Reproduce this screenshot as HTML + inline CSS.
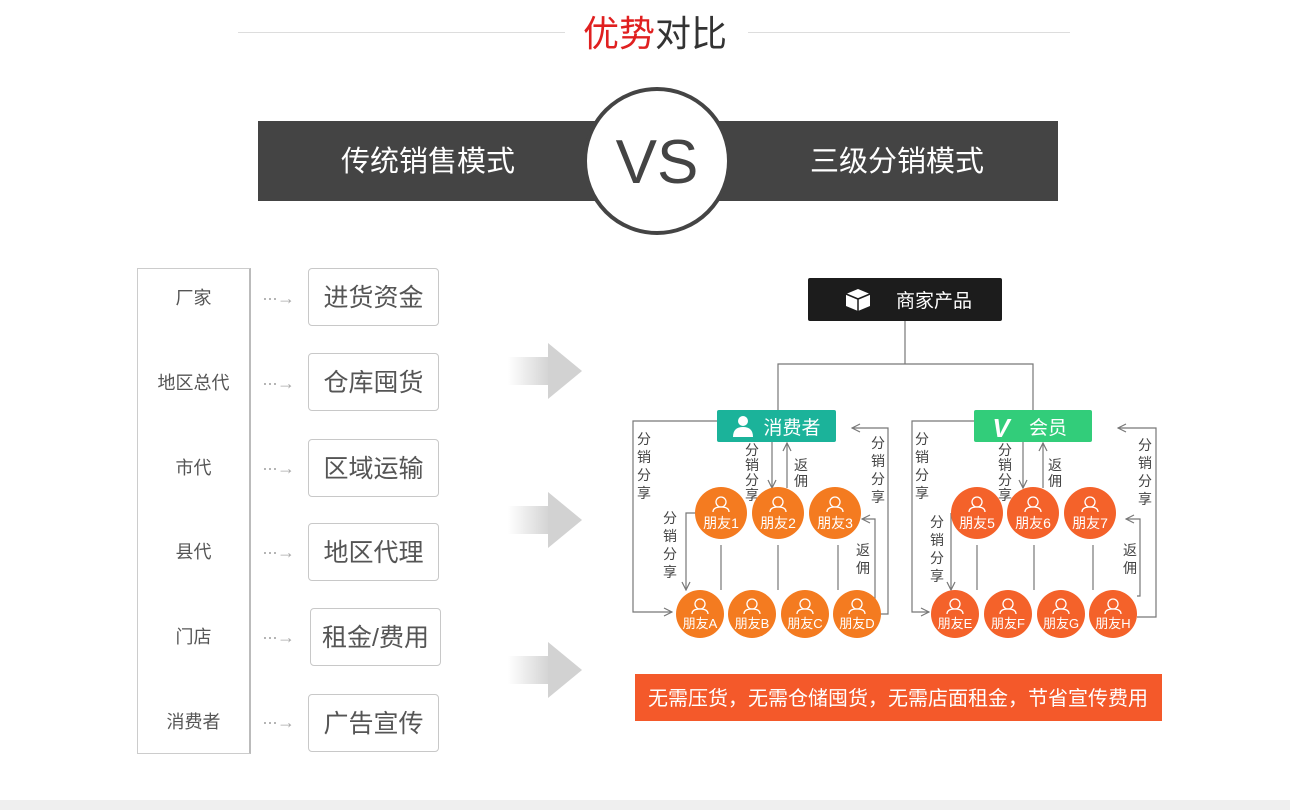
<!DOCTYPE html>
<html><head><meta charset="utf-8"><style>
body{margin:0;width:1290px;height:810px;background:#fff;position:relative;overflow:hidden;font-family:"Liberation Sans","Noto Sans CJK SC",sans-serif}
.a{position:absolute}
.lab{position:absolute;left:137px;width:113px;text-align:center;font-size:18px;color:#555;line-height:20px}
.box{position:absolute;left:308px;width:129px;height:56px;border:1px solid #c8c8c8;border-radius:4px;text-align:center;font-size:25px;color:#555;line-height:58px}
.ar{position:absolute;left:262px;font-size:18px;color:#aaa;line-height:20px;letter-spacing:-1px}
</style></head><body>
<div class="a" style="left:238px;top:32px;width:327px;height:1px;background:#ddd"></div>
<div class="a" style="left:748px;top:32px;width:322px;height:1px;background:#ddd"></div>
<div class="a" style="left:560px;top:12px;width:190px;text-align:center;font-size:36px;line-height:44px;color:#333"><span style="color:#e02020">优势</span>对比</div>
<div class="a" style="left:258px;top:121px;width:800px;height:80px;background:#444"></div>
<div class="a" style="left:258px;top:122px;width:340px;line-height:80px;text-align:center;color:#fff;font-size:29px">传统销售模式</div>
<div class="a" style="left:727px;top:122px;width:340px;line-height:80px;text-align:center;color:#fff;font-size:29px">三级分销模式</div>
<div class="a" style="left:583px;top:87px;width:140px;height:140px;border:4px solid #444;border-radius:50%;background:#fff;text-align:center;line-height:144px;font-size:62px;color:#444">VS</div>

<div class="a" style="left:137px;top:268px;width:111px;height:484px;border:1px solid #ccc;border-right:2px solid #bbb"></div>
<div class="lab" style="top:288px">厂家</div>
<div class="lab" style="top:373px">地区总代</div>
<div class="lab" style="top:458px">市代</div>
<div class="lab" style="top:542px">县代</div>
<div class="lab" style="top:627px">门店</div>
<div class="lab" style="top:712px">消费者</div>
<div class="ar" style="top:288px">···→</div>
<div class="ar" style="top:373px">···→</div>
<div class="ar" style="top:458px">···→</div>
<div class="ar" style="top:542px">···→</div>
<div class="ar" style="top:627px">···→</div>
<div class="ar" style="top:712px">···→</div>
<div class="box" style="top:268px">进货资金</div>
<div class="box" style="top:353px">仓库囤货</div>
<div class="box" style="top:439px">区域运输</div>
<div class="box" style="top:523px">地区代理</div>
<div class="box" style="top:608px;left:310px">租金/费用</div>
<div class="box" style="top:694px">广告宣传</div>

<svg class="a" style="left:0;top:0" width="1290" height="810">
<defs>
<linearGradient id="g" x1="0" x2="1"><stop offset="0" stop-color="#fff"/><stop offset="1" stop-color="#d0d0d0"/></linearGradient>
<g id="bg"><rect x="508" y="-14" width="44" height="28" fill="url(#g)"/><polygon points="548,-28 582,0 548,28" fill="#d2d2d2"/></g>
<g id="p"><circle cx="0" cy="-11" r="5" fill="none" stroke="#fff" stroke-width="1.3"/><path d="M-8,-1 Q-8,-6 0,-6 Q8,-6 8,-1" fill="none" stroke="#fff" stroke-width="1.3"/></g>
<marker id="m" markerWidth="10" markerHeight="10" refX="9" refY="5" orient="auto" markerUnits="userSpaceOnUse"><path d="M1,1 L9,5 L1,9" fill="none" stroke="#777" stroke-width="1.2"/></marker>
</defs>
<use href="#bg" y="371"/><use href="#bg" y="520"/><use href="#bg" y="670"/>
<g stroke="#777" stroke-width="1.2" fill="none">
<path d="M905,321 V364 M778,410 V364 H1033 V410"/>
<path d="M717,421 H633 V612 H672" marker-end="url(#m)"/>
<path d="M880,614 H888 V428 H852" marker-end="url(#m)"/>
<path d="M696,513 H686 V590" marker-end="url(#m)"/>
<path d="M872,602 H875 V519 H862" marker-end="url(#m)"/>
<path d="M772,442 V488" marker-end="url(#m)"/>
<path d="M787,488 V443" marker-end="url(#m)"/>
<path d="M721,545 V590 M778,545 V590 M838,545 V590"/>
<path d="M974,421 H912 V612 H929" marker-end="url(#m)"/>
<path d="M1137,617 H1156 V428 H1118" marker-end="url(#m)"/>
<path d="M951,513 V590" marker-end="url(#m)"/>
<path d="M1137,596 H1140 V519 H1126" marker-end="url(#m)"/>
<path d="M1023,442 V488" marker-end="url(#m)"/>
<path d="M1043,488 V443" marker-end="url(#m)"/>
<path d="M977,545 V590 M1034,545 V590 M1093,545 V590"/>
</g>
<rect x="808" y="278" width="194" height="43" rx="2" fill="#1c1c1c"/>
<path d="M846,294 L858,289 L870,294 L870,306 L858,311 L846,306 Z" fill="#fff"/><path d="M846,294 L858,299 L870,294 M858,299 V311" stroke="#1c1c1c" stroke-width="1.5" fill="none"/>
<text x="934" y="307" fill="#fff" font-size="19" text-anchor="middle">商家产品</text>
<rect x="717" y="410" width="119" height="32" rx="2" fill="#1bb39a"/>
<circle cx="743" cy="421" r="5" fill="#fff"/><path d="M733,437 Q733,427 743,427 Q753,427 753,437 Z" fill="#fff"/>
<text x="792" y="434" fill="#fff" font-size="19" text-anchor="middle">消费者</text>
<rect x="974" y="410" width="118" height="32" rx="2" fill="#32cd7a"/>
<text x="1001" y="437" fill="#fff" font-size="26" font-weight="bold" font-style="italic" text-anchor="middle">V</text>
<text x="1048" y="434" fill="#fff" font-size="19" text-anchor="middle">会员</text>
<g font-size="14" fill="#444" text-anchor="middle">
<text x="644" y="444">分</text><text x="644" y="462">销</text><text x="644" y="480">分</text><text x="644" y="498">享</text>
<text x="670" y="523">分</text><text x="670" y="541">销</text><text x="670" y="559">分</text><text x="670" y="577">享</text>
<text x="752" y="455">分</text><text x="752" y="470">销</text><text x="752" y="485">分</text><text x="752" y="500">享</text>
<text x="801" y="470">返</text><text x="801" y="486">佣</text>
<text x="878" y="448">分</text><text x="878" y="466">销</text><text x="878" y="484">分</text><text x="878" y="502">享</text>
<text x="863" y="555">返</text><text x="863" y="573">佣</text>
<text x="922" y="444">分</text><text x="922" y="462">销</text><text x="922" y="480">分</text><text x="922" y="498">享</text>
<text x="937" y="527">分</text><text x="937" y="545">销</text><text x="937" y="563">分</text><text x="937" y="581">享</text>
<text x="1005" y="455">分</text><text x="1005" y="470">销</text><text x="1005" y="485">分</text><text x="1005" y="500">享</text>
<text x="1055" y="470">返</text><text x="1055" y="486">佣</text>
<text x="1145" y="450">分</text><text x="1145" y="468">销</text><text x="1145" y="486">分</text><text x="1145" y="504">享</text>
<text x="1130" y="555">返</text><text x="1130" y="573">佣</text>
</g>
<g fill="#f47b20">
<circle cx="721" cy="513" r="26"/><circle cx="778" cy="513" r="26"/><circle cx="835" cy="513" r="26"/>
<circle cx="700" cy="614" r="24"/><circle cx="752" cy="614" r="24"/><circle cx="805" cy="614" r="24"/><circle cx="857" cy="614" r="24"/>
</g>
<g fill="#f4622a">
<circle cx="977" cy="513" r="26"/><circle cx="1033" cy="513" r="26"/><circle cx="1090" cy="513" r="26"/>
<circle cx="955" cy="614" r="24"/><circle cx="1008" cy="614" r="24"/><circle cx="1061" cy="614" r="24"/><circle cx="1113" cy="614" r="24"/>
</g>
<use href="#p" x="721" y="513"/><use href="#p" x="778" y="513"/><use href="#p" x="835" y="513"/>
<use href="#p" x="977" y="513"/><use href="#p" x="1033" y="513"/><use href="#p" x="1090" y="513"/>
<use href="#p" x="700" y="615"/><use href="#p" x="752" y="615"/><use href="#p" x="805" y="615"/><use href="#p" x="857" y="615"/>
<use href="#p" x="955" y="615"/><use href="#p" x="1008" y="615"/><use href="#p" x="1061" y="615"/><use href="#p" x="1113" y="615"/>
<g fill="#fff" font-size="14" text-anchor="middle">
<text x="721" y="528">朋友1</text><text x="778" y="528">朋友2</text><text x="835" y="528">朋友3</text>
<text x="977" y="528">朋友5</text><text x="1033" y="528">朋友6</text><text x="1090" y="528">朋友7</text>
<text x="700" y="628" font-size="13">朋友A</text><text x="752" y="628" font-size="13">朋友B</text><text x="805" y="628" font-size="13">朋友C</text><text x="857" y="628" font-size="13">朋友D</text>
<text x="955" y="628" font-size="13">朋友E</text><text x="1008" y="628" font-size="13">朋友F</text><text x="1061" y="628" font-size="13">朋友G</text><text x="1113" y="628" font-size="13">朋友H</text>
</g>
<rect x="635" y="674" width="527" height="47" fill="#f4592a"/>
<text x="898" y="705" fill="#fff" font-size="20" text-anchor="middle">无需压货，无需仓储囤货，无需店面租金，节省宣传费用</text>
<rect x="0" y="800" width="1290" height="10" fill="#efefef"/>
</svg>
</body></html>
